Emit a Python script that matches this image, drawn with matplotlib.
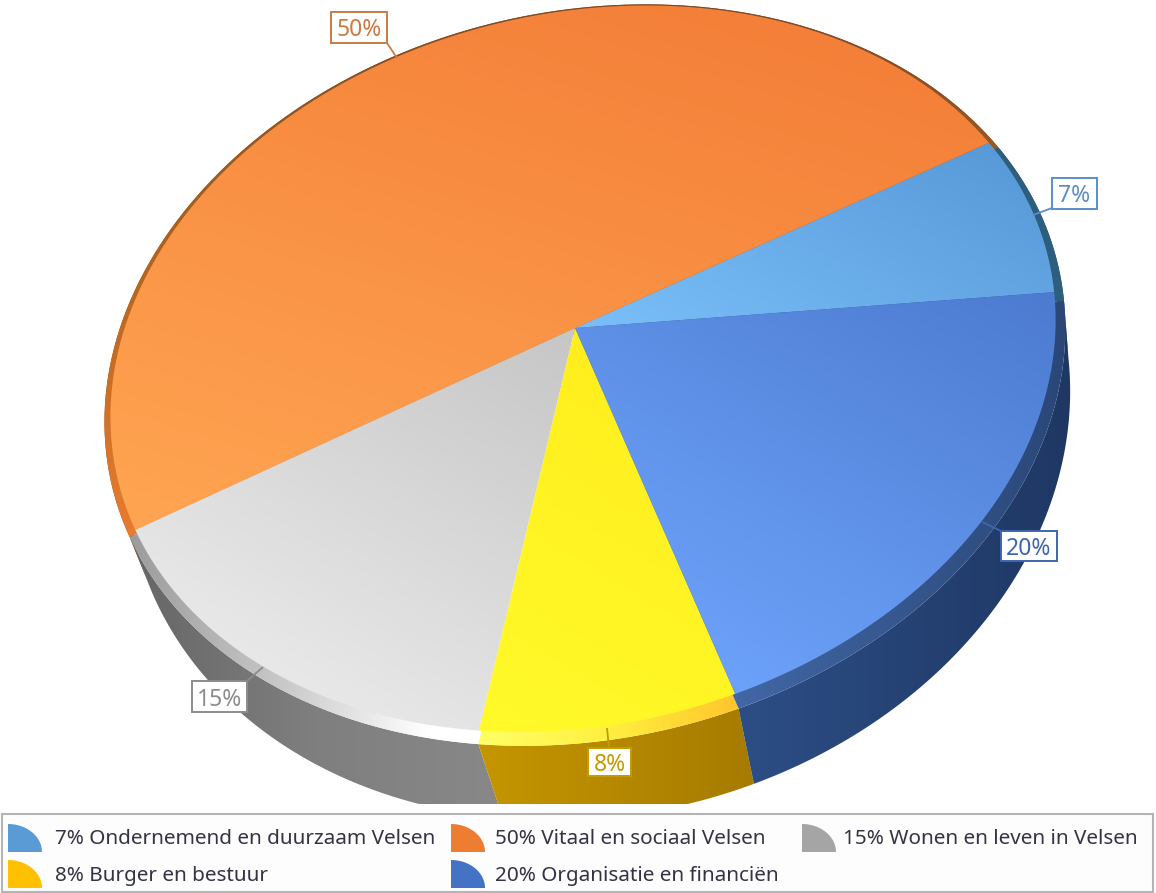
import numpy as np
import matplotlib
matplotlib.use("Agg")
import matplotlib.pyplot as plt
from matplotlib.colors import LinearSegmentedColormap
from matplotlib.patches import Polygon, Rectangle

# aandelen zoals getekend; de labels tonen ze afgerond
values = [7.4, 50.2, 15.1, 7.8, 19.5]
names = ["Ondernemend en duurzaam Velsen", "Vitaal en sociaal Velsen", "Wonen en leven in Velsen",
         "Burger en bestuur", "Organisatie en financiën"]

# kleuren per taart-stuk
legend_colors = ["#5B9BD5", "#ED7D31", "#A5A5A5", "#FFC000", "#4472C4"]
face_colors = [["#589AD8", "#7ABFFA"], ["#F47F38", "#FFA552"], ["#C6C6C6", "#E8E8E8"],
               ["#FFEE1E", "#FFFA2A"], ["#4C7BD0", "#6DA2FA"]]
face_axis = [(-0.5, 0.85), (-0.3, 0.95), (-0.5, 0.85), (-0.5, 0.85), (-0.5, 0.85)]
lip_colors = [["#2E6285", "#2E5E7E"], ["#7A4A26", "#B5651F", "#E87C30"], ["#9C9C9C", "#C8C8C8", "#FFFFFF", "#FFFFFF"],
              ["#FFFF66", "#FFF040", "#FFC52B"], ["#4D76BA", "#2A4778"]]
wall_colors = [["#2A5070", "#2A5070"], ["#8A4A18", "#8A4A18"], ["#666666", "#7F7F7F", "#888888"],
               ["#C59600", "#A67B00"], ["#2C4E86", "#1F3763"]]
lip_axis = [(1, 0), (0, 1), (1, 0), (1, 0), (1, 0)]
label_edges = ["#5B8DC8", "#CC7A45", "#8C8C8C", "#C69A00", "#3E66AE"]
label_boxes = [(1052, 178, 1097, 209), (331, 12, 387, 43), (192, 681, 247, 712), (588, 748, 631, 776), (1001, 531, 1057, 561)]
label_lines = [((1052, 208), (1033, 215)), ((387, 43), (397, 58)), ((247, 681), (263, 667)),
               ((607, 728), (609, 748)), ((1001, 531), (982, 522))]

# ellips: cx, cy, a, b, hoek  (gepast op de rand van de taart)
face_ell = (583.0, 368.7, 478.3, 355.7, 166.7)
lip_ell = (584.9, 375.1, 485.8, 363.7, 167.1)
wall_ell = (598.4, 430.0, 476.5, 384.5, 166.2)
face_apex = (575, 328)
lip_apex = (577, 334)
wall_apex = (590, 386)
bottom_clip = 804
start_angle = 100.5
layer = [1]


def to_screen(theta, ell, apex):
    cx, cy, a, b, phi = ell
    r = np.radians(phi)
    R = np.array([[np.cos(r), np.sin(r)], [-np.sin(r), np.cos(r)]])
    ap = R @ (np.array(apex, float) - [cx, cy]) / [a, b]
    d = np.hypot(ap[0], ap[1])
    th = np.arctan2(ap[1], ap[0])
    X = np.cos(np.radians(theta))
    Y = np.sin(np.radians(theta))
    den = 1 + d * X
    x = (X + d) / den
    y = Y * np.sqrt(1 - d * d) / den
    ux = (x * np.cos(th) - y * np.sin(th)) * a
    uy = (x * np.sin(th) + y * np.cos(th)) * b
    return np.c_[cx + ux * np.cos(r) - uy * np.sin(r), cy + ux * np.sin(r) + uy * np.cos(r)]


def fill_gradient(ax, pts, stops, axis):
    # polygoon vullen met een lineair verloop
    pts = pts.copy()
    pts[:, 1] = np.minimum(pts[:, 1], bottom_clip)
    x0, y0 = pts.min(axis=0)
    x1, y1 = pts.max(axis=0)
    xs, ys = np.meshgrid(np.linspace(x0, x1, 200), np.linspace(y0, y1, 200))
    t = xs * axis[0] + ys * axis[1]
    p = pts[:, 0] * axis[0] + pts[:, 1] * axis[1]
    t = (t - p.min()) / (p.max() - p.min())
    cmap = LinearSegmentedColormap.from_list("g", stops)
    layer[0] += 1
    im = ax.imshow(cmap(np.clip(t, 0, 1)), extent=[x0, x1, y1, y0], origin="upper", aspect="auto",
                   interpolation="bilinear", zorder=layer[0])
    patch = Polygon(pts, closed=True, transform=ax.transData, facecolor="none", edgecolor="none")
    ax.add_patch(patch)
    im.set_clip_path(patch)


fig = plt.figure(figsize=(11.56, 8.93), dpi=100)
ax = fig.add_axes([0, 0, 1, 1])

wedges, _ = ax.pie(values, startangle=start_angle, counterclock=False)
spans = [(w.theta2, w.theta1) for w in wedges]
for w in wedges:
    w.remove()
ax.set_box_aspect(None)
ax.set_aspect("auto")

arcs = [np.linspace(s, e, 120) for s, e in spans]

# zijkant
for i, arc in enumerate(arcs):
    outer = to_screen(arc, wall_ell, wall_apex)
    inner = to_screen(arc, lip_ell, lip_apex)
    fill_gradient(ax, np.vstack([inner, outer[::-1]]), wall_colors[i], (1, 0))

# rand
for i, arc in enumerate(arcs):
    pts = np.vstack([[lip_apex], to_screen(arc, lip_ell, lip_apex)])
    fill_gradient(ax, pts, lip_colors[i], lip_axis[i])

# bovenkant
for i, arc in enumerate(arcs):
    pts = np.vstack([[face_apex], to_screen(arc, face_ell, face_apex)])
    fill_gradient(ax, pts, face_colors[i], face_axis[i])

# labels met lijntje
z = layer[0] + 1
for i, v in enumerate(values):
    (x0, y0), (x1, y1) = label_lines[i]
    ax.plot([x0, x1], [y0, y1], color=label_edges[i], linewidth=1.3, solid_capstyle="butt", zorder=z)
    bx0, by0, bx1, by1 = label_boxes[i]
    ax.add_patch(Rectangle((bx0, by0), bx1 - bx0, by1 - by0, facecolor="white", edgecolor=label_edges[i], linewidth=1.4, zorder=z))
    ax.text((bx0 + bx1) / 2, (by0 + by1) / 2, "%d%%" % round(v), color=label_edges[i], fontsize=16.5, family="Noto Sans",
            ha="center", va="center_baseline", zorder=z + 1)

# legenda
ax.add_patch(Rectangle((2, 814), 1151, 78, facecolor="#FDFDFD", edgecolor="#B4B4B4", linewidth=1.5, zorder=z))
legend_x = [8, 451, 802, 8, 451]
legend_y = [852, 852, 852, 888, 888]
legend_text_x = [55, 495, 843, 55, 495]
t = np.radians(np.linspace(0, 90, 30))
for i, v in enumerate(values):
    x0, y0 = legend_x[i], legend_y[i]
    glyph = np.c_[x0 + 34 * np.cos(t), y0 - 28 * np.sin(t)]
    ax.add_patch(Polygon(np.vstack([[(x0, y0)], glyph]), closed=True, facecolor=legend_colors[i], edgecolor="none", zorder=z))
    ax.text(legend_text_x[i], y0 - 15, "%d%% %s" % (round(v), names[i]), color="#333344", fontsize=14.9, family="Noto Sans",
            ha="left", va="center_baseline", zorder=z + 1)

ax.set_xlim(0, 1156)
ax.set_ylim(893, 0)
ax.axis("off")
fig.savefig("out.png", dpi=100)
